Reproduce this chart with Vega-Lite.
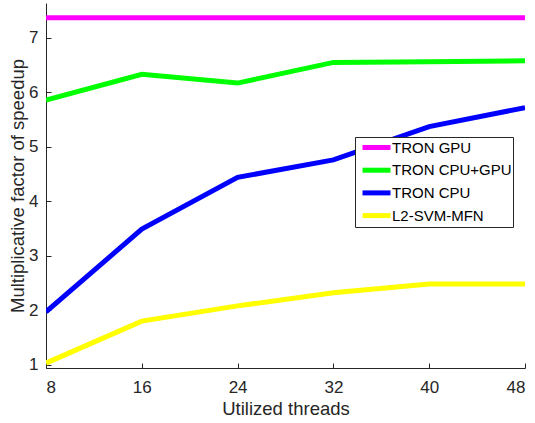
{
  "$schema": "https://vega.github.io/schema/vega-lite/v6.json",
  "width": 479,
  "height": 365,
  "autosize": {"type": "none"},
  "padding": {"left": 46, "top": 3, "right": 10, "bottom": 55},
  "background": "white",
  "config": {
    "view": {"stroke": null},
    "font": "Liberation Sans"
  },
  "data": {
    "values": [
      {"series": "TRON GPU", "threads": 8, "speedup": 7.37},
      {"series": "TRON GPU", "threads": 16, "speedup": 7.37},
      {"series": "TRON GPU", "threads": 24, "speedup": 7.37},
      {"series": "TRON GPU", "threads": 32, "speedup": 7.37},
      {"series": "TRON GPU", "threads": 40, "speedup": 7.37},
      {"series": "TRON GPU", "threads": 48, "speedup": 7.37},
      {"series": "TRON CPU+GPU", "threads": 8, "speedup": 5.86},
      {"series": "TRON CPU+GPU", "threads": 16, "speedup": 6.33},
      {"series": "TRON CPU+GPU", "threads": 24, "speedup": 6.17},
      {"series": "TRON CPU+GPU", "threads": 32, "speedup": 6.55},
      {"series": "TRON CPU+GPU", "threads": 40, "speedup": 6.56},
      {"series": "TRON CPU+GPU", "threads": 48, "speedup": 6.58},
      {"series": "TRON CPU", "threads": 8, "speedup": 1.97},
      {"series": "TRON CPU", "threads": 16, "speedup": 3.49},
      {"series": "TRON CPU", "threads": 24, "speedup": 4.44},
      {"series": "TRON CPU", "threads": 32, "speedup": 4.76},
      {"series": "TRON CPU", "threads": 40, "speedup": 5.37},
      {"series": "TRON CPU", "threads": 48, "speedup": 5.72},
      {"series": "L2-SVM-MFN", "threads": 8, "speedup": 1.03},
      {"series": "L2-SVM-MFN", "threads": 16, "speedup": 1.80},
      {"series": "L2-SVM-MFN", "threads": 24, "speedup": 2.08},
      {"series": "L2-SVM-MFN", "threads": 32, "speedup": 2.32},
      {"series": "L2-SVM-MFN", "threads": 40, "speedup": 2.48},
      {"series": "L2-SVM-MFN", "threads": 48, "speedup": 2.48}
    ]
  },
  "mark": {"type": "line", "strokeWidth": 5, "clip": true},
  "encoding": {
    "x": {
      "field": "threads",
      "type": "quantitative",
      "scale": {"domain": [8, 48], "nice": false, "zero": false},
      "axis": {
        "title": "Utilized threads",
        "values": [8, 16, 24, 32, 40, 48],
        "grid": false,
        "domainColor": "#262626",
        "tickColor": "#262626",
        "tickSize": -5,
        "labelPadding": 16,
        "labelFontSize": 17,
        "labelColor": "#262626",
        "labelFont": "Liberation Sans",
        "titleFontSize": 18.5,
        "titleFontWeight": "normal",
        "titleColor": "#262626",
        "titleFont": "Liberation Sans",
        "titlePadding": 4
      }
    },
    "y": {
      "field": "speedup",
      "type": "quantitative",
      "scale": {"domain": [0.94, 7.64], "nice": false, "zero": false},
      "axis": {
        "title": "Multiplicative factor of speedup",
        "values": [1, 2, 3, 4, 5, 6, 7],
        "grid": false,
        "domainColor": "#262626",
        "tickColor": "#262626",
        "tickSize": -5,
        "labelPadding": 13,
        "labelFontSize": 17,
        "labelColor": "#262626",
        "labelFont": "Liberation Sans",
        "titleFontSize": 18.5,
        "titleFontWeight": "normal",
        "titleColor": "#262626",
        "titleFont": "Liberation Sans",
        "titlePadding": 1
      }
    },
    "color": {
      "field": "series",
      "type": "nominal",
      "sort": ["TRON GPU", "TRON CPU+GPU", "TRON CPU", "L2-SVM-MFN"],
      "scale": {
        "domain": ["TRON GPU", "TRON CPU+GPU", "TRON CPU", "L2-SVM-MFN"],
        "range": ["#ff00ff", "#00ff00", "#0000ff", "#ffff00"]
      },
      "legend": {
        "title": null,
        "orient": "none",
        "legendX": 309,
        "legendY": 134,
        "symbolType": "M-2,0H2",
        "symbolSize": 196,
        "symbolOffset": 11,
        "symbolStrokeWidth": 5,
        "labelFontSize": 15,
        "labelFont": "Liberation Sans",
        "labelColor": "#000000",
        "labelOffset": 6,
        "rowPadding": 1.7,
        "padding": 1,
        "strokeColor": "#262626",
        "fillColor": "white"
      }
    }
  }
}
